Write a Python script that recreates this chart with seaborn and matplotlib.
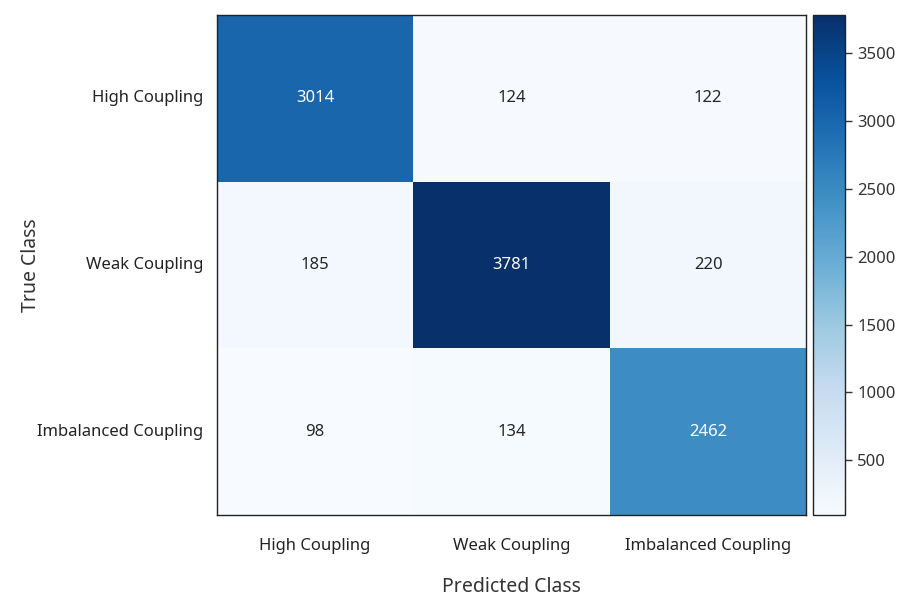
import matplotlib
matplotlib.use("Agg")
import matplotlib.pyplot as plt
import seaborn as sns
import numpy as np
import pandas as pd

classes = ["High Coupling", "Weak Coupling", "Imbalanced Coupling"]
row_high = [3014, 124, 122]
row_weak = [185, 3781, 220]
row_imbalanced = [98, 134, 2462]
cbar_ticks = [500, 1000, 1500, 2000, 2500, 3000, 3500]

sns.set_theme(style="white")
plt.rcParams["font.family"] = ["Noto Sans", "DejaVu Sans"]

cm = pd.DataFrame([row_high, row_weak, row_imbalanced], index=classes, columns=classes)

fig = plt.figure(figsize=(9.07, 6.05), dpi=100)
ax = fig.add_axes([0.239, 0.149, 0.650, 0.826])
cax = fig.add_axes([0.896, 0.149, 0.036, 0.826])

sns.heatmap(cm, annot=True, fmt="d", cmap="Blues", ax=ax, cbar_ax=cax,
            annot_kws={"fontsize": 12},
            cbar_kws={"ticks": cbar_ticks})

for spine in ax.spines.values():
    spine.set_visible(True)
    spine.set_color("#222222")
    spine.set_linewidth(1.0)

ax.set_xlabel("Predicted Class", fontsize=14, labelpad=16, color="#333333")
ax.set_ylabel("True Class", fontsize=14, color="#333333")
ax.yaxis.set_label_coords(-0.298, 0.5)
ax.tick_params(axis="both", length=0, labelsize=12, colors="#222222")
ax.tick_params(axis="x", pad=17, rotation=0)
ax.tick_params(axis="y", pad=10, rotation=0)

cax.tick_params(labelsize=12, length=5, width=1, colors="#333333", direction="out")
cax.yaxis.set_ticks_position("right")
cb = ax.collections[0].colorbar
cb.outline.set_visible(True)
cb.outline.set_edgecolor("#222222")
cb.outline.set_linewidth(1.0)

fig.savefig("out.png", dpi=100)
